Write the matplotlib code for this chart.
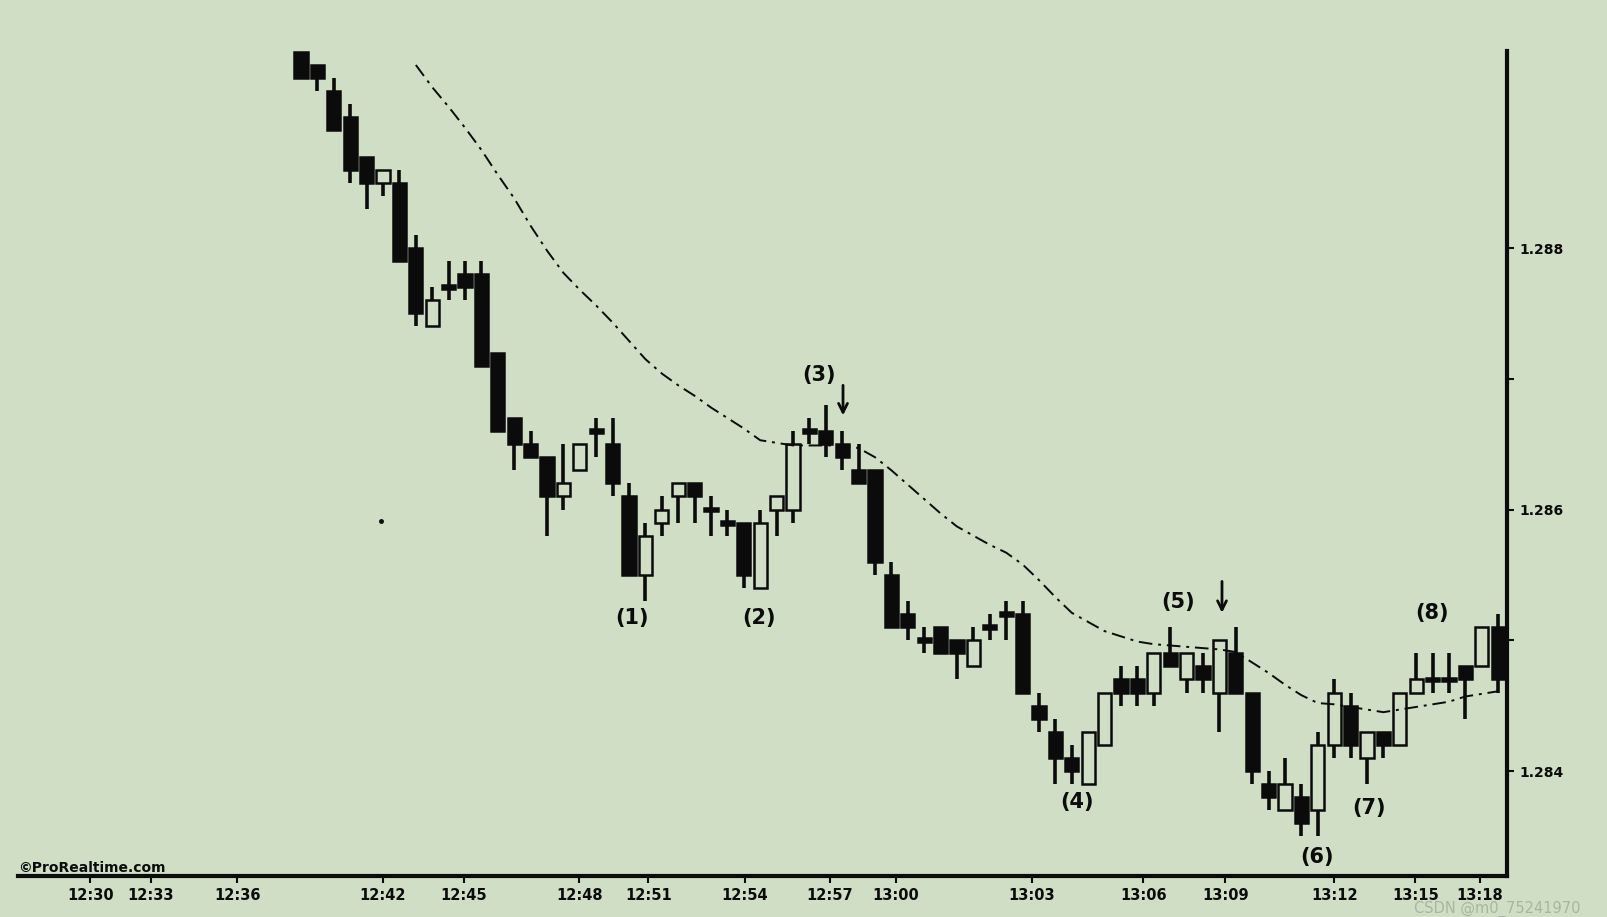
import matplotlib
matplotlib.use("Agg")
import matplotlib.pyplot as plt
from matplotlib.patches import Rectangle

# ---------------- data ----------------
opens = [1.2895, 1.2894, 1.2892, 1.2890, 1.2887, 1.2885, 1.2885, 1.2880, 1.2874, 1.2877,
         1.2878, 1.2878, 1.2872, 1.2867, 1.2865, 1.2864, 1.2861, 1.2863, 1.2866, 1.2865,
         1.2861, 1.2855, 1.2859, 1.2861, 1.2862, 1.2860, 1.2859, 1.2859, 1.2854, 1.2860,
         1.2860, 1.2866, 1.2866, 1.2865, 1.2863, 1.2863, 1.2855, 1.2852, 1.2850, 1.2851,
         1.2850, 1.2848, 1.2851, 1.2852, 1.2852, 1.2845, 1.2843, 1.2841, 1.2839, 1.2842,
         1.2847, 1.2847, 1.2846, 1.2849, 1.2847, 1.2848, 1.2846, 1.2849, 1.2846, 1.2839,
         1.2837, 1.2838, 1.2837, 1.2842, 1.2845, 1.2841, 1.2843, 1.2842, 1.2846, 1.2847,
         1.2847, 1.2848, 1.2848, 1.2851]
highs = [1.2895, 1.2894, 1.2893, 1.2891, 1.2887, 1.2886, 1.2886, 1.2881, 1.2877, 1.2879,
         1.2879, 1.2879, 1.2872, 1.2867, 1.2866, 1.2864, 1.2865, 1.2865, 1.2867, 1.2867,
         1.2862, 1.2859, 1.2861, 1.2862, 1.2862, 1.2861, 1.2860, 1.2859, 1.2860, 1.2861,
         1.2866, 1.2867, 1.2868, 1.2866, 1.2865, 1.2863, 1.2856, 1.2853, 1.2851, 1.2851,
         1.2850, 1.2851, 1.2852, 1.2853, 1.2853, 1.2846, 1.2844, 1.2842, 1.2843, 1.2846,
         1.2848, 1.2848, 1.2849, 1.2851, 1.2849, 1.2849, 1.2850, 1.2851, 1.2846, 1.2840,
         1.2841, 1.2839, 1.2843, 1.2847, 1.2846, 1.2843, 1.2843, 1.2846, 1.2849, 1.2849,
         1.2849, 1.2848, 1.2851, 1.2852]
lows = [1.2893, 1.2892, 1.2889, 1.2885, 1.2883, 1.2884, 1.2879, 1.2874, 1.2874, 1.2876,
        1.2876, 1.2871, 1.2866, 1.2863, 1.2864, 1.2858, 1.2860, 1.2863, 1.2864, 1.2861,
        1.2855, 1.2853, 1.2858, 1.2859, 1.2859, 1.2858, 1.2858, 1.2854, 1.2854, 1.2858,
        1.2859, 1.2865, 1.2864, 1.2863, 1.2862, 1.2855, 1.2851, 1.2850, 1.2849, 1.2849,
        1.2847, 1.2848, 1.2850, 1.2850, 1.2846, 1.2843, 1.2839, 1.2839, 1.2839, 1.2842,
        1.2845, 1.2845, 1.2845, 1.2848, 1.2846, 1.2846, 1.2843, 1.2846, 1.2839, 1.2837,
        1.2837, 1.2835, 1.2835, 1.2841, 1.2841, 1.2839, 1.2841, 1.2842, 1.2846, 1.2846,
        1.2846, 1.2844, 1.2848, 1.2846]
closes = [1.2893, 1.2893, 1.2889, 1.2886, 1.2885, 1.2886, 1.2879, 1.2875, 1.2876, 1.2877,
          1.2877, 1.2871, 1.2866, 1.2865, 1.2864, 1.2861, 1.2862, 1.2865, 1.2866, 1.2862,
          1.2855, 1.2858, 1.2860, 1.2862, 1.2861, 1.2860, 1.2859, 1.2855, 1.2859, 1.2861,
          1.2865, 1.2866, 1.2865, 1.2864, 1.2862, 1.2856, 1.2851, 1.2851, 1.2850, 1.2849,
          1.2849, 1.2850, 1.2851, 1.2852, 1.2846, 1.2844, 1.2841, 1.2840, 1.2843, 1.2846,
          1.2846, 1.2846, 1.2849, 1.2848, 1.2849, 1.2847, 1.2850, 1.2846, 1.2840, 1.2838,
          1.2839, 1.2836, 1.2842, 1.2846, 1.2842, 1.2843, 1.2842, 1.2846, 1.2847, 1.2847,
          1.2847, 1.2847, 1.2851, 1.2847]

ma_start = 7
ma_values = [1.28940, 1.28923, 1.28908, 1.28892, 1.28875, 1.28856, 1.28838, 1.28817, 1.28798,
             1.28781, 1.28768, 1.28756, 1.28743, 1.28729, 1.28715, 1.28704, 1.28695, 1.28687,
             1.28678, 1.28670, 1.28662, 1.28653, 1.28651, 1.28649, 1.28649, 1.28649, 1.28649,
             1.28647, 1.28640, 1.28630, 1.28619, 1.28608, 1.28597, 1.28587, 1.28580, 1.28573,
             1.28567, 1.28558, 1.28546, 1.28533, 1.28521, 1.28514, 1.28507, 1.28503, 1.28499,
             1.28497, 1.28496, 1.28495, 1.28494, 1.28493, 1.28491, 1.28483, 1.28475, 1.28466,
             1.28458, 1.28452, 1.28451, 1.28449, 1.28447, 1.28445, 1.28447, 1.28449, 1.28451,
             1.28453, 1.28457, 1.28459, 1.28461]

time_labels = ["12:30", "12:33", "12:36", "12:42", "12:45", "12:48", "12:51", "12:54",
               "12:57", "13:00", "13:03", "13:06", "13:09", "13:12", "13:15", "13:18"]
time_tick_pos = [-12.84, -9.15, -3.90, 4.97, 9.91, 16.98, 21.17, 27.05,
                 32.26, 36.28, 44.55, 51.37, 56.37, 63.0, 67.96, 71.89]

price_ticks = [1.284, 1.286, 1.288]
price_labels = ["1.284", "1.286", "1.288"]
price_minor = [1.285, 1.287]

note_texts = ["(1)", "(2)", "(3)", "(4)", "(5)", "(6)", "(7)", "(8)"]
note_x = [20.2, 27.9, 31.6, 47.3, 53.5, 61.95, 65.1, 68.96]
note_y = [1.28517, 1.28517, 1.28703, 1.28376, 1.28529, 1.28334, 1.28372, 1.28521]

arrow_x = [33.05, 56.16]
arrow_from = [1.28695, 1.28545]
arrow_to = [1.28672, 1.28521]

# ---------------- styling ----------------
BG = "#cfdec4"
INK = "#0b0b0b"
W, H = 1607, 917

fig = plt.figure(figsize=(W / 100, H / 100), dpi=100, facecolor=BG)
ax = fig.add_axes([18 / W, (H - 876) / H, (1507 - 18) / W, (876 - 51) / H])
ax.set_facecolor(BG)

body_w = 0.8
doji_h = 0.00003
for i, (o, h, l, c) in enumerate(zip(opens, highs, lows, closes)):
    top, bot = max(o, c), min(o, c)
    if top - bot < doji_h:
        mid = (top + bot) / 2
        top, bot = mid + doji_h / 2, mid - doji_h / 2
        face = INK
    else:
        face = BG if c > o else INK
    if h > top:
        ax.plot([i, i], [top, h], color=INK, lw=2.6, solid_capstyle="butt", zorder=2, clip_on=False)
    if l < bot:
        ax.plot([i, i], [l, bot], color=INK, lw=2.6, solid_capstyle="butt", zorder=2, clip_on=False)
    ax.add_patch(Rectangle((i - body_w / 2, bot), body_w, top - bot, facecolor=face,
                           edgecolor=INK, lw=1.8, zorder=3, clip_on=False))

ma_x = list(range(ma_start, ma_start + len(ma_values)))
ax.plot(ma_x, ma_values, color=INK, lw=1.4, linestyle=(0, (7, 3, 1.5, 3)), zorder=4)

for s, x, y in zip(note_texts, note_x, note_y):
    ax.text(x, y, s, ha="center", va="center", fontsize=15, fontweight="bold", color=INK)

for x, y0, y1 in zip(arrow_x, arrow_from, arrow_to):
    ax.annotate("", xy=(x, y1), xytext=(x, y0),
                arrowprops=dict(arrowstyle="->", lw=2.0, color=INK, mutation_scale=16,
                                shrinkA=0, shrinkB=0))

# small stray dot visible in the scan
ax.plot([4.9], [1.28591], marker="o", markersize=2.5, color=INK, linestyle="none")

ax.set_xlim(-17.26, 73.54)
ax.set_ylim(1.283197, 1.289507)

for side in ("left", "top"):
    ax.spines[side].set_visible(False)
for side in ("bottom", "right"):
    ax.spines[side].set_linewidth(3)
    ax.spines[side].set_color(INK)

ax.yaxis.tick_right()
ax.set_yticks(price_ticks)
ax.set_yticklabels(price_labels)
ax.set_yticks(price_minor, minor=True)
ax.tick_params(axis="y", which="both", direction="out", length=5, width=1.5,
               pad=4, labelsize=10, colors=INK)
for lbl in ax.get_yticklabels():
    lbl.set_fontweight("bold")

ax.set_xticks(time_tick_pos)
ax.set_xticklabels(time_labels)
ax.tick_params(axis="x", direction="out", length=5, width=1.5, pad=4,
               labelsize=10.5, colors=INK)
for lbl in ax.get_xticklabels():
    lbl.set_fontweight("bold")

fig.text(18 / W, (H - 868) / H, "\u00a9ProRealtime.com", fontsize=10, fontweight="bold",
         color=INK, ha="left", va="center")
fig.text(1414 / W, (H - 909) / H, "CSDN @m0_75241970", fontsize=10.5, color="#a9b5a3",
         ha="left", va="center")

fig.savefig("out.png", dpi=100, facecolor=BG)
